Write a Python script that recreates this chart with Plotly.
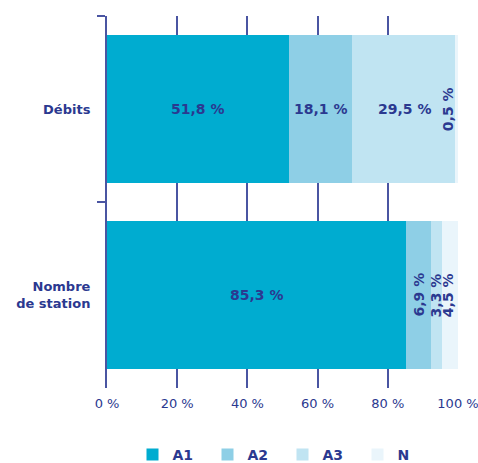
import plotly.graph_objects as go

categories = ["Débits", "Nombre<br>de station"]
series_names = ["A1", "A2", "A3", "N"]
values = {
    "A1": [51.8, 85.3],
    "A2": [18.1, 6.9],
    "A3": [29.5, 3.3],
    "N": [0.5, 4.5],
}
colors = {"A1": "#00acd0", "A2": "#8ecfe6", "A3": "#c0e4f2", "N": "#eaf5fb"}
tick_values = [0, 20, 40, 60, 80, 100]
tick_labels = ["0 %", "20 %", "40 %", "60 %", "80 %", "100 %"]

NAVY = "#2b3990"
FONT = "DejaVu Sans"

fig = go.Figure()
for name in series_names:
    fig.add_trace(go.Bar(
        y=categories, x=values[name], name=name, orientation="h",
        marker=dict(color=colors[name], line=dict(width=0)),
        hoverinfo="x+name",
    ))

# labels: horizontal when the segment is wide, rotated otherwise
for ci, cat in enumerate(categories):
    start = 0.0
    for name in series_names:
        v = values[name][ci]
        center = start + v / 2
        label = f"{v:.1f} %".replace(".", ",")
        wide = v >= 10
        fig.add_annotation(
            x=min(center, 97.2), y=cat, text=f"<b>{label}</b>", showarrow=False,
            textangle=0 if wide else -90,
            font=dict(family=FONT, size=14, color=NAVY),
            xanchor="center", yanchor="middle",
        )
        start += v

fig.update_layout(
    barmode="stack",
    bargap=0.2,
    width=478, height=463,
    margin=dict(l=107, r=20, t=16, b=75, autoexpand=False),
    paper_bgcolor="white", plot_bgcolor="white",
    font=dict(family=FONT, color=NAVY),
    showlegend=True,
    legend=dict(
        orientation="h", x=0.5, xanchor="center", y=-0.18, yanchor="middle",
        font=dict(family=FONT, size=14, color=NAVY, weight="bold"),
        traceorder="normal", entrywidth=30, entrywidthmode="pixels",
        itemwidth=30,
    ),
    xaxis=dict(
        range=[0, 100], tickvals=tick_values, ticktext=tick_labels,
        showgrid=True, gridcolor="#4a55a2", gridwidth=1.5,
        zeroline=False, showline=False, ticks="",
        tickfont=dict(family=FONT, size=13, color=NAVY),
        ticklabeloverflow="allow", ticklabelstandoff=6,
        fixedrange=True, automargin=False,
    ),
    yaxis=dict(
        categoryorder="array", categoryarray=categories, autorange="reversed",
        showline=True, linecolor="#4a55a2", linewidth=2,
        ticks="outside", ticklen=8, tickwidth=2, tickcolor="#4a55a2",
        tickson="boundaries", ticklabelstandoff=12,
        tickfont=dict(family=FONT, size=13, color=NAVY, weight="bold"),
        showgrid=False,
        fixedrange=True, automargin=False,
    ),
)

fig.write_html("out.html")
